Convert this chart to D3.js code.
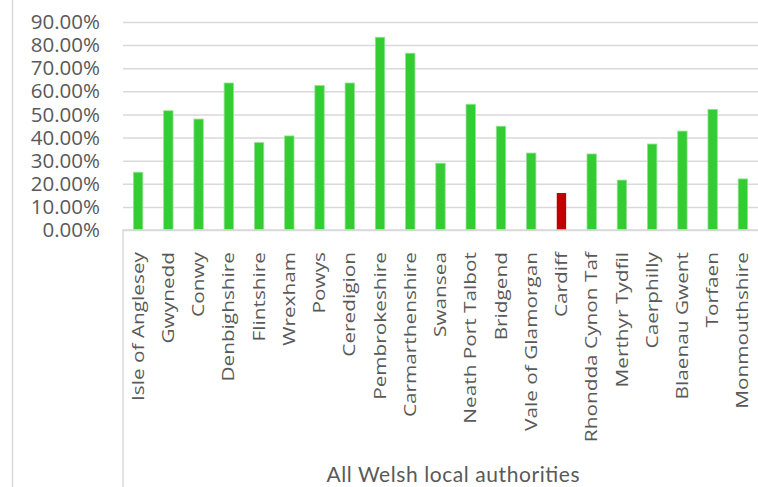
<!DOCTYPE html>
<html>
<head>
<meta charset="utf-8">
<script src="https://cdn.jsdelivr.net/npm/d3@7"></script>
<style>
  body { margin: 0; background: #fff; }
  svg { display: block; }
</style>
</head>
<body>
<script>
var authorities = ["Isle of Anglesey", "Gwynedd", "Conwy", "Denbighshire", "Flintshire",
  "Wrexham", "Powys", "Ceredigion", "Pembrokeshire", "Carmarthenshire", "Swansea",
  "Neath Port Talbot", "Bridgend", "Vale of Glamorgan", "Cardiff", "Rhondda Cynon Taf",
  "Merthyr Tydfil", "Caerphilly", "Blaenau Gwent", "Torfaen", "Monmouthshire"];
var shares = [0.250, 0.516, 0.480, 0.636, 0.378, 0.407, 0.625, 0.636, 0.834, 0.765, 0.289,
  0.544, 0.449, 0.333, 0.160, 0.329, 0.216, 0.372, 0.428, 0.522, 0.221];
var highlighted = ["Cardiff"];
var yTicks = [0, 0.1, 0.2, 0.3, 0.4, 0.5, 0.6, 0.7, 0.8, 0.9];
var axisTitle = "All Welsh local authorities";

var width = 758, height = 487;
var plotLeft = 123, plotRight = 758, plotTop = 22, plotBottom = 230;
var stretch = 1.3; // category labels look stretched along their length

var svg = d3.select("body").append("svg")
  .attr("width", width)
  .attr("height", height);

// outer frame edge
svg.append("line")
  .attr("x1", 12.5).attr("x2", 12.5)
  .attr("y1", 0).attr("y2", height)
  .style("stroke", "#d9d9d9")
  .style("stroke-width", 1.5);

var x = d3.scaleBand()
  .domain(authorities)
  .range([plotLeft, plotRight])
  .paddingInner(0.69)
  .paddingOuter(0.345);

var y = d3.scaleLinear()
  .domain([0, 0.9])
  .range([plotBottom, plotTop]);

// gridlines
var grid = svg.append("g")
  .attr("transform", "translate(" + plotLeft + ",0)")
  .call(d3.axisLeft(y).tickValues(yTicks).tickSize(-(plotRight - plotLeft)).tickFormat(""));
grid.select(".domain").remove();
grid.selectAll("line")
  .style("stroke", "#d9d9d9")
  .style("stroke-width", 1.5);

// y labels
var yAxis = svg.append("g")
  .attr("transform", "translate(" + plotLeft + ",0)")
  .call(d3.axisLeft(y).tickValues(yTicks).tickSize(0).tickPadding(23).tickFormat(d3.format(".2%")));
yAxis.select(".domain").remove();
yAxis.selectAll("text")
  .style("font-family", "'Open Sans', sans-serif")
  .style("font-size", "20.5px")
  .style("fill", "#595959");

// bars
svg.append("g").selectAll("rect")
  .data(authorities)
  .join("rect")
  .attr("x", function(d) { return x(d); })
  .attr("width", x.bandwidth())
  .attr("y", function(d, i) { return y(shares[i]); })
  .attr("height", function(d, i) { return y(0) - y(shares[i]); })
  .style("fill", function(d) { return highlighted.indexOf(d) >= 0 ? "#c00000" : "#33cc33"; })
  .style("stroke", function(d) { return highlighted.indexOf(d) >= 0 ? "none" : "#8fe38f"; })
  .style("stroke-width", 0.8);

// category axis box
svg.append("path")
  .attr("d", "M" + plotRight + "," + plotBottom + "H" + plotLeft + "V" + height)
  .style("fill", "none")
  .style("stroke", "#d9d9d9")
  .style("stroke-width", 1.5);

// category labels
var xAxis = svg.append("g")
  .attr("transform", "translate(0," + plotBottom + ")")
  .call(d3.axisBottom(x).tickSize(0).tickPadding(0));
xAxis.select(".domain").remove();
xAxis.selectAll("text")
  .attr("transform", "scale(1," + stretch + ") rotate(-90)")
  .attr("x", -22 / stretch)
  .attr("y", 0)
  .attr("dy", "0.35em")
  .style("text-anchor", "end")
  .style("font-family", "'Open Sans', sans-serif")
  .style("font-size", "16px")
  .style("fill", "#595959");

svg.append("text")
  .attr("x", 453)
  .attr("y", 482)
  .attr("text-anchor", "middle")
  .attr("textLength", 253)
  .attr("lengthAdjust", "spacing")
  .style("font-family", "Lato, sans-serif")
  .style("font-size", "21px")
  .style("fill", "#595959")
  .text(axisTitle);
</script>
</body>
</html>
